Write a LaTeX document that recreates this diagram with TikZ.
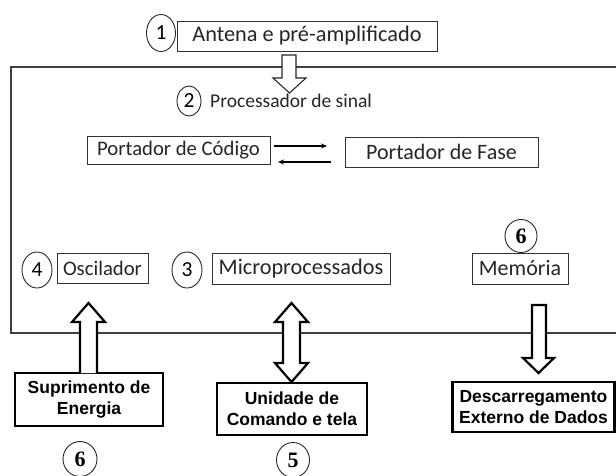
\documentclass[tikz,border=0pt]{standalone}
\usepackage{fontspec}
\setmainfont{Carlito}
\newfontfamily\arialf{Liberation Sans}
\newfontfamily\timesf{Liberation Serif}
\usetikzlibrary{arrows.meta,shapes.geometric}
\newcommand{\fsz}[1]{\fontsize{#1}{#1}\selectfont}
\begin{document}
\begin{tikzpicture}[x=1pt,y=-1pt,
  thinbox/.style={draw=black!80,line width=0.9pt,inner sep=0pt,text=black!85},
  thickbox/.style={draw=black,line width=2.2pt,inner sep=0pt,align=center,font=\arialf\bfseries\fontsize{17.5}{21}\selectfont},
  num/.style={draw=black!85,line width=0.9pt,ellipse,inner sep=0pt,font=\fsz{21.5}},
  bnum/.style={draw=black!85,line width=0.9pt,ellipse,inner sep=0pt,font=\timesf\bfseries\fsz{22}},
  hol/.style={draw=black!85,line width=1.1pt,fill=white,line join=miter},
  holb/.style={draw=black,line width=2.2pt,fill=white,line join=miter},
  small/.style={draw=black,line width=1.1pt,-{Stealth[length=6pt,width=5pt]}}]
\useasboundingbox (0,0) rectangle (616,476);
% frame
\coordinate (ftr) at (620,67);
\coordinate (fbr) at (620,333);
\draw[draw=black!75,line width=1.1pt] (ftr) -- (11,67) -- (11,333) -- (fbr);
% top
\node[thinbox,font=\fsz{22.3},minimum width=260pt,minimum height=30pt] (ant) at (307,36) {Antena e pré-amplificado};
\node[num,minimum width=29pt,minimum height=37pt] (n1) at (161,33) {1};
\draw[hol] (282,55) -- (282,78) -- (273,78) -- (289.5,93) -- (306,78) -- (296,78) -- (296,55) -- cycle;
\node[num,minimum width=24pt,minimum height=30pt] (n2) at (189,101) {2};
\node[anchor=west,inner sep=0pt,font=\fsz{19.5},text=black!85] (proc) at (210,101) {Processador de sinal};
\node[thinbox,font=\fsz{20.7},minimum width=183pt,minimum height=28pt] (pc) at (178.5,150) {Portador de Código};
\node[thinbox,font=\fsz{22},minimum width=193pt,minimum height=30pt] (pf) at (441.5,152) {Portador de Fase};
\coordinate (r1) at (274,146); \coordinate (r2) at (327,146);
\coordinate (l1) at (331,162); \coordinate (l2) at (278,162);
\draw[small] (r1) -- (r2);
\draw[small] (l1) -- (l2);
% middle row
\node[num,minimum width=30pt,minimum height=36pt] (n4) at (37,270) {4};
\node[thinbox,font=\fsz{20.7},minimum width=91pt,minimum height=30pt] (osc) at (102.5,268) {Oscilador};
\node[num,minimum width=30pt,minimum height=36pt] (n3) at (187,270) {3};
\node[thinbox,font=\fsz{22.3},minimum width=178pt,minimum height=31pt] (mic) at (301,268.5) {Microprocessados};
\node[bnum,minimum width=32pt,minimum height=33pt] (n6a) at (521,236) {6};
\node[thinbox,font=\fsz{22},minimum width=96pt,minimum height=31pt] (mem) at (520,268.5) {Memória};
% bottom boxes
\node[thickbox,minimum width=148pt,minimum height=53pt] (sup) at (89,399.5) {Suprimento de\\Energia};
\node[thickbox,minimum width=150pt,minimum height=52pt] (uni) at (292,409) {Unidade de\\Comando e tela};
\node[thickbox,minimum width=162pt,minimum height=50pt] (des) at (533.5,407) {Descarregamento\\Externo de Dados};
\node[bnum,minimum width=34pt,minimum height=35pt] (n6b) at (80,459) {6};
\node[bnum,minimum width=33pt,minimum height=35pt] (n5) at (293,460) {5};
% hollow arrows
\draw[holb] (80,373) -- (80,322) -- (72,322) -- (88.5,303) -- (105,322) -- (97,322) -- (97,373);
\draw[holb] (283,322) -- (283,363) -- (275,363) -- (291.5,382) -- (308,363) -- (300,363) -- (300,322) -- (308,322) -- (291.5,303) -- (275,322) -- cycle;
\draw[holb] (532,305) -- (532,358) -- (523,358) -- (538.5,373) -- (554,358) -- (546,358) -- (546,305) -- cycle;
\end{tikzpicture}
\end{document}
